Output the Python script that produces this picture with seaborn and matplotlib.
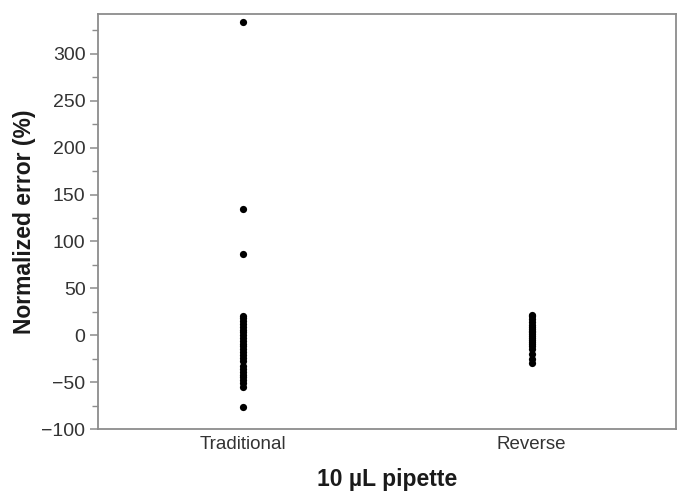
import matplotlib
matplotlib.use("Agg")
import matplotlib.pyplot as plt
from matplotlib.ticker import MultipleLocator
import seaborn as sns
import pandas as pd

categories = ["Traditional", "Reverse"]
traditional_values = [334, 135, 87, 21, 18, 15, 12, 9, 6, 3, 0, -3, -6, -9, -12,
                      -15, -18, -21, -24, -27, -33, -36, -39, -42, -45, -48,
                      -51, -55, -77]
reverse_values = [22, 20, 17, 14, 11, 9, 7, 5, 3, 1, -1, -3, -5, -7, -9, -12,
                  -15, -20, -25, -30]
y_ticks = [-100, -50, 0, 50, 100, 150, 200, 250, 300]
y_tick_labels = ["\u2212100", "\u221250", "0", "50", "100", "150", "200", "250", "300"]

df = pd.DataFrame({
    "method": [categories[0]] * len(traditional_values) + [categories[1]] * len(reverse_values),
    "error": traditional_values + reverse_values,
})

sns.set_theme(style="white")
plt.rcParams["font.family"] = ["Liberation Sans", "DejaVu Sans"]

fig = plt.figure(figsize=(6.81, 4.91), dpi=100)
ax = fig.add_axes([98 / 681, 1 - 429 / 491, (676 - 98) / 681, (429 - 13.5) / 491])

sns.stripplot(data=df, x="method", y="error", order=categories, jitter=False,
              color="black", size=5.2, linewidth=0, ax=ax)

ax.set_xlim(-0.5, 1.5)
ax.set_ylim(-100, 343)
ax.set_yticks(y_ticks)
ax.set_yticklabels(y_tick_labels)
ax.yaxis.set_minor_locator(MultipleLocator(25))

for s in ax.spines.values():
    s.set_color("#8c8c8c")
    s.set_linewidth(1.3)

ax.tick_params(axis="y", which="major", direction="out", length=6, width=1.1,
               color="#8c8c8c", labelsize=14, labelcolor="#333333", pad=3, left=True)
ax.tick_params(axis="y", which="minor", direction="out", length=4, width=1.0,
               color="#8c8c8c", left=True)
ax.tick_params(axis="x", which="both", length=0, labelsize=13.5, labelcolor="#333333", pad=5)

ax.set_xlabel("10 \u00b5L pipette", fontsize=16.5, fontweight="bold", color="#1a1a1a", labelpad=11)
ax.set_ylabel("Normalized error (%)", fontsize=16.5, fontweight="bold", color="#1a1a1a", labelpad=4)

fig.savefig("out.png", dpi=100)
